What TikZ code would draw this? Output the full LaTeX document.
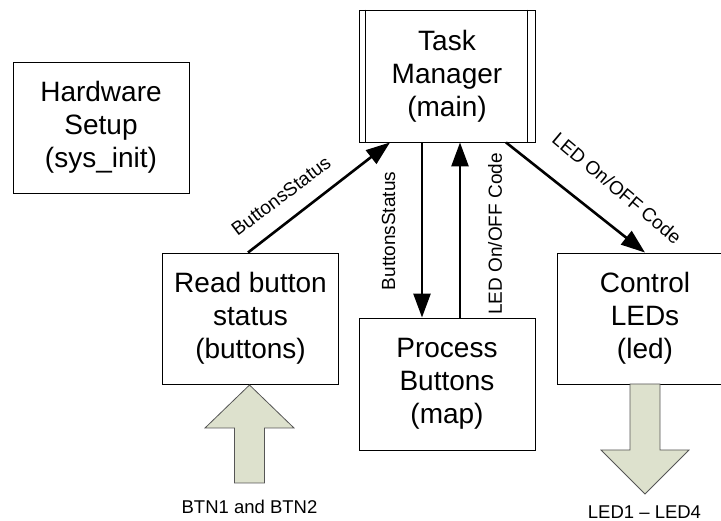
\documentclass[tikz,border=0pt]{standalone}
\usepackage{fontspec}
\setmainfont{Liberation Sans}
\usetikzlibrary{arrows.meta}
\definecolor{blockfill}{HTML}{DDE1CD}
\definecolor{blockline}{HTML}{555555}
\tikzset{
  box/.style={draw, line width=0.9pt, minimum width=176pt, minimum height=131pt,
    align=center, inner sep=0pt, font=\fontsize{28}{33}\selectfont},
  flow/.style={line width=2.6pt, -{Triangle[length=24pt,width=17pt]}},
  lbl/.style={inner sep=0pt, font=\fontsize{19}{22}\selectfont},
  iolbl/.style={inner sep=0pt, font=\fontsize{18.5}{22}\selectfont},
  blockarrow/.style={draw=blockline, line width=0.8pt, fill=blockfill},
}
\begin{document}
\begin{tikzpicture}[x=1pt,y=-1pt]
\useasboundingbox (0,0) rectangle (721,521);
% boxes
\node[box] (hw) at (101,127.5) {Hardware\\Setup\\(sys\_init)};
\node[box, minimum height=132pt] (tm) at (447,76) {Task\\Manager\\(main)};
\draw[line width=0.9pt] ([xshift=7pt]tm.north west) -- ([xshift=7pt]tm.south west);
\draw[line width=0.9pt] ([xshift=-8pt]tm.north east) -- ([xshift=-8pt]tm.south east);
\node[box] (rb) at (250.5,318.5) {Read button\\status\\(buttons)};
\node[box, minimum height=132pt] (pb) at (447,384) {Process\\Buttons\\(map)};
\node[box] (cl) at (645,318.5) {Control\\LEDs\\(led)};
% connectors
\draw[flow] ([xshift=-2.5pt]rb.north) -- ([xshift=-57pt]tm.south);
\draw[flow] ([xshift=-25pt]tm.south) -- ([xshift=-25pt]pb.north);
\draw[flow] ([xshift=13pt]pb.north) -- ([xshift=13pt]tm.south);
\draw[flow] ([xshift=59pt]tm.south) -- (cl.north);
% connector labels
\node[lbl, rotate=37] (l1) at (281,196) {ButtonsStatus};
\node[lbl, rotate=90] (l2) at (388.5,231) {ButtonsStatus};
\node[lbl, rotate=90] (l3) at (495,234) {LED On/OFF Code};
\node[lbl, rotate=-40] (l4) at (617,188) {LED On/OFF Code};
% block arrows
\draw[blockarrow] (249.5,385) -- (294,428) -- (264.5,428) -- (264.5,483)
  -- (234.5,483) -- (234.5,428) -- (205,428) -- cycle;
\draw[blockarrow] (630,384) -- (660,384) -- (660,450) -- (689,450)
  -- (645,494) -- (601,450) -- (630,450) -- cycle;
\node[iolbl] (btn) at (249.5,507) {BTN1 and BTN2};
\node[iolbl] (leds) at (644.5,512) {LED1 – LED4};
\end{tikzpicture}
\end{document}
